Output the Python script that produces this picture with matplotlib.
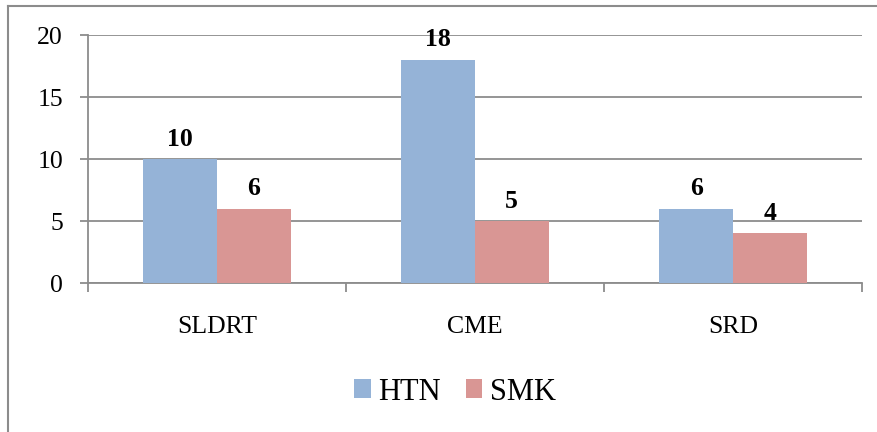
import matplotlib
matplotlib.use("Agg")
import matplotlib.pyplot as plt
from matplotlib.lines import Line2D
import numpy as np

categories = ["SLDRT", "CME", "SRD"]
htn = [10, 18, 6]
smk = [6, 5, 4]
series_names = ["HTN", "SMK"]
colors = ["#95B3D7", "#D99694"]
grid_color = "#8c8c8c"

plt.rcParams["font.family"] = ["Liberation Serif", "DejaVu Serif"]

W, H, DPI = 878, 432, 100
fig = plt.figure(figsize=(W / DPI, H / DPI), dpi=DPI)

left, right, top, bottom = 88, 862, 35, 283
ax = fig.add_axes([left / W, 1 - bottom / H, (right - left) / W, (bottom - top) / H])

x = np.arange(len(categories))
bw = 0.285
bars1 = ax.bar(x - bw / 2, htn, bw, color=colors[0], label=series_names[0], zorder=3)
bars2 = ax.bar(x + bw / 2, smk, bw, color=colors[1], label=series_names[1], zorder=3)

for bars, vals in ((bars1, htn), (bars2, smk)):
    for b, v in zip(bars, vals):
        ax.annotate(f"{v}", (b.get_x() + b.get_width() / 2, v),
                    xytext=(0, 6), textcoords="offset points",
                    ha="center", va="bottom", fontsize=18.5, fontweight="bold",
                    zorder=4)

ax.set_xlim(-0.5, len(categories) - 0.5)
ax.set_ylim(0, 20)
ax.set_yticks([0, 5, 10, 15, 20])
ax.yaxis.grid(True, color=grid_color, linewidth=1.3, zorder=0)
ax.set_axisbelow(True)

ax.set_xticks(x)
ax.set_xticklabels(categories)
ax.set_xticks(np.arange(len(categories) + 1) - 0.5, minor=True)
ax.tick_params(axis="x", which="major", length=0, pad=24, labelsize=18.5)
ax.tick_params(axis="x", which="minor", length=6.5, width=1.3, color=grid_color)
ax.tick_params(axis="y", length=6, width=1.3, color=grid_color, pad=12, labelsize=18.5)

for s in ("top", "right"):
    ax.spines[s].set_visible(False)
for s in ("left", "bottom"):
    ax.spines[s].set_color(grid_color)
    ax.spines[s].set_linewidth(1.3)

leg = fig.legend(handles=[bars1, bars2], labels=series_names, loc="center",
                 bbox_to_anchor=(455 / W, 1 - 392 / H), ncol=2, frameon=False,
                 fontsize=22, handlelength=0.55, handleheight=0.55,
                 handletextpad=0.25, columnspacing=0.8)

# chart frame
fig.add_artist(Line2D([8 / W, 1], [1 - 5.5 / H, 1 - 5.5 / H], color=grid_color,
                      linewidth=1.5, transform=fig.transFigure))
fig.add_artist(Line2D([8 / W, 8 / W], [0, 1 - 5.5 / H], color=grid_color,
                      linewidth=1.5, transform=fig.transFigure))

fig.savefig("out.png", dpi=DPI)
